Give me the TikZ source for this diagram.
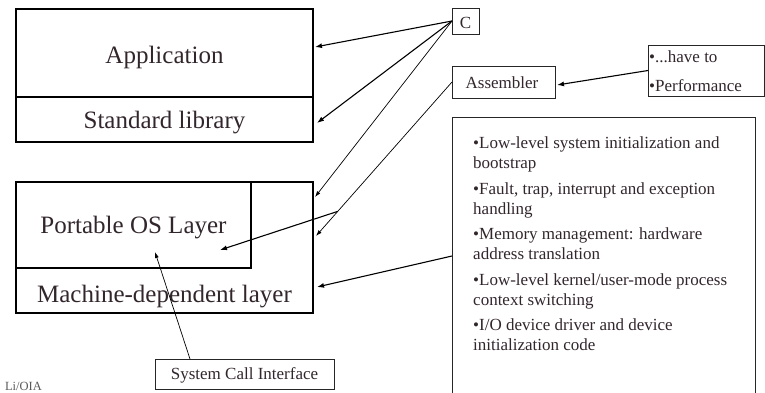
\documentclass[tikz,border=0pt]{standalone}
\usepackage{fontspec}
\setmainfont{Liberation Serif}
\usetikzlibrary{arrows.meta}
\definecolor{ink}{RGB}{50,38,45}
\begin{document}
\begin{tikzpicture}[x=1pt,y=-1pt,
  layer/.style={draw=black,line width=2.6pt,inner sep=0pt,outer sep=0pt,anchor=north west},
  tag/.style={draw=black!85,line width=0.9pt,inner sep=0pt,outer sep=0pt,anchor=north west},
  big/.style={font=\fontsize{25}{30}\selectfont,text=ink,anchor=base,inner sep=0pt},
  small/.style={font=\fontsize{17}{20}\selectfont,text=ink,inner sep=0pt},
  arr/.style={-{Latex[length=7pt,width=5pt]},line width=1.1pt},
  thinarr/.style={-{Latex[length=6pt,width=4pt]},line width=0.7pt}]
\useasboundingbox (0,0) rectangle (765,392);
\clip (0,0) rectangle (765,392);

% layered structure on the left
\node[layer,minimum width=297pt,minimum height=88pt] (app) at (16,9) {};
\node[layer,minimum width=297pt,minimum height=45pt] (lib) at (16,97) {};
\node[layer,minimum width=297pt,minimum height=131pt] (mdep) at (16,182) {};
\node[layer,minimum width=235pt,minimum height=86pt] (pos) at (16,182) {};

\node[big] (tapp) at (164.5,63) {Application};
\node[big] (tlib) at (164.5,128) {Standard library};
\node[big] (tpos) at (133.5,233) {Portable OS Layer};
\node[big] (tmd) at (164.5,302) {Machine-dependent layer};

% labels and notes
\node[tag,minimum width=27pt,minimum height=26pt] (c) at (452,8) {};
\node[small,anchor=base] (tc) at (465.5,28) {C};
\node[tag,minimum width=103pt,minimum height=32pt] (asm) at (452,66) {};
\node[small,anchor=base] (tasm) at (502,88) {Assembler};
\node[tag,minimum width=116pt,minimum height=51pt] (have) at (648,45) {};
\node[small,anchor=base west] (thave1) at (649,62) {•...have to};
\node[small,anchor=base west] (thave2) at (649,91) {•Performance};
\node[tag,minimum width=303pt,minimum height=278pt] (hw) at (452,117) {};
\node[small,anchor=north west,align=left] (thw) at (473,136.5) {%
•Low-level system initialization and\\bootstrap\\[5.5pt]
•Fault, trap, interrupt and exception\\handling\\[5.5pt]
•Memory management: hardware\\address translation\\[5.5pt]
•Low-level kernel/user-mode process\\context switching\\[5.5pt]
•I/O device driver and device\\initialization code};
\node[tag,minimum width=179pt,minimum height=30pt] (sci) at (155,359) {};
\node[small,anchor=base] (tsci) at (244.5,379.5) {System Call Interface};

\node[font=\fontsize{12.5}{14}\selectfont,text=black!65,anchor=base east,inner sep=0pt] (foot) at (42,390) {Li/OIA};

% arrow end points
\coordinate (appin) at (315,47);
\coordinate (libin) at (317,123);
\coordinate (mdin) at (315,197);
\coordinate (asmin) at (316,236);
\coordinate (posin) at (220,250);
\coordinate (hwin) at (317,287);
\coordinate (asmend) at (557,85);
\coordinate (sciin) at (155,252);

% connectors
\draw[arr] (c.west) -- (appin);
\draw[arr] (c.west) -- (libin);
\draw[thinarr] (c.west) -- (mdin);
\draw[thinarr] (asm.west) -- coordinate[pos=0.84] (kink) (asmin);
\draw[arr] (kink) -- (posin);
\draw[arr] (hw.west) -- (hwin);
\draw[arr] (have.west) -- (asmend);
\draw[thinarr] ([xshift=35pt]sci.north west) -- (sciin);
\end{tikzpicture}
\end{document}
